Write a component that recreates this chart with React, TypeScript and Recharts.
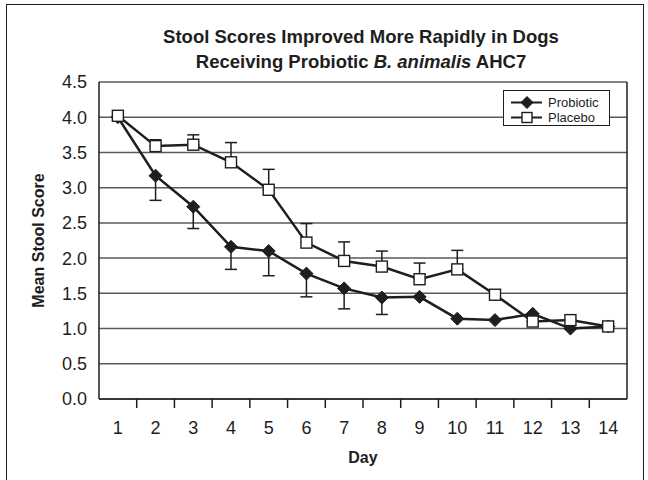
import React from 'react';
import {
  LineChart,
  Line,
  XAxis,
  YAxis,
  CartesianGrid,
  ErrorBar,
  Legend,
  ReferenceLine,
} from 'recharts';

const days = [1, 2, 3, 4, 5, 6, 7, 8, 9, 10, 11, 12, 13, 14];
const probiotic = [4.0, 3.17, 2.73, 2.16, 2.1, 1.78, 1.57, 1.44, 1.45, 1.14, 1.12, 1.21, 1.0, 1.03];
const probioticErr = [0, 0.35, 0.31, 0.32, 0.35, 0.33, 0.29, 0.24, 0, 0, 0, 0, 0, 0];
const placebo = [4.02, 3.59, 3.61, 3.36, 2.97, 2.22, 1.96, 1.88, 1.7, 1.84, 1.48, 1.1, 1.12, 1.03];
const placeboErr = [0, 0.09, 0.14, 0.28, 0.29, 0.27, 0.27, 0.22, 0.23, 0.27, 0, 0, 0, 0];
const yTicks = [0, 0.5, 1, 1.5, 2, 2.5, 3, 3.5, 4, 4.5];

const FONT = '"Liberation Sans", Arial, Helvetica, sans-serif';
const INK = '#1e1e1e';

const data = days.map((day, i) => ({
  day,
  probiotic: probiotic[i],
  probErr: [probioticErr[i], 0],
  placebo: placebo[i],
  placErr: [0, placeboErr[i]],
}));

const TICK_SIZE = 9;
const TICK_MARGIN = 13;

function DayTick(props: any) {
  const { x, y, payload, index, width } = props;
  const half = (width ?? 528) / days.length / 2;
  const axisY = y - TICK_SIZE - TICK_MARGIN;
  return (
    <g>
      {index < days.length - 1 && (
        <line x1={x + half} x2={x + half} y1={axisY} y2={axisY + TICK_SIZE} stroke={INK} strokeWidth={1.5} />
      )}
      <text x={x} y={y} dy="0.71em" textAnchor="middle" fill={INK} fontSize={18} fontFamily={FONT}>
        {payload.value}
      </text>
    </g>
  );
}

function Diamond({ cx, cy, r = 6.5 }: any) {
  return (
    <polygon
      points={`${cx},${cy - r} ${cx + r},${cy} ${cx},${cy + r} ${cx - r},${cy}`}
      fill={INK}
      stroke={INK}
      strokeWidth={1}
    />
  );
}

function Square({ cx, cy, s = 11 }: any) {
  return (
    <rect x={cx - s / 2} y={cy - s / 2} width={s} height={s} fill="#fff" stroke={INK} strokeWidth={1.4} />
  );
}

function LegendBox() {
  const rows = [
    { name: 'Probiotic', marker: (cx: number, cy: number) => <Diamond cx={cx} cy={cy} r={6} /> },
    { name: 'Placebo', marker: (cx: number, cy: number) => <Square cx={cx} cy={cy} s={10} /> },
  ];
  return (
    <div
      style={{
        background: '#fff',
        border: `1.3px solid ${INK}`,
        width: 105,
        height: 30,
        paddingTop: 4,
        boxSizing: 'content-box',
        fontFamily: FONT,
        fontSize: 13,
        color: INK,
      }}
    >
      {rows.map((r) => (
        <div key={r.name} style={{ display: 'flex', alignItems: 'center', height: 15 }}>
          <svg width={44} height={15} style={{ display: 'block' }}>
            <line x1={7} x2={38} y1={7.5} y2={7.5} stroke={INK} strokeWidth={2} />
            {r.marker(23, 7.5)}
          </svg>
          <span style={{ lineHeight: '15px' }}>{r.name}</span>
        </div>
      ))}
    </div>
  );
}

export default function App() {
  return (
    <div style={{ position: 'absolute', left: 0, top: 0, width: 648, height: 480, overflow: 'hidden', background: '#fff' }}>
      <div
        style={{
          position: 'absolute',
          left: 6,
          top: 4,
          width: 636,
          height: 520,
          border: `1.5px solid ${INK}`,
        }}
      />
      <div
        style={{
          position: 'absolute',
          left: 74,
          top: 24,
          width: 574,
          textAlign: 'center',
          fontFamily: FONT,
          fontWeight: 'bold',
          fontSize: 18.5,
          lineHeight: '25px',
          color: INK,
          zIndex: 2,
        }}
      >
        <div>Stool Scores Improved More Rapidly in Dogs</div>
        <div>
          Receiving Probiotic <i>B. animalis</i> AHC7
        </div>
      </div>
      <LineChart width={648} height={480} data={data} margin={{ top: 82, right: 21, bottom: 0, left: 0 }}>
        <CartesianGrid vertical={false} stroke="#5a5a5a" strokeWidth={1.5} />
        <XAxis
          dataKey="day"
          type="number"
          domain={[0.5, 14.5]}
          ticks={days}
          interval={0}
          height={81}
          tickLine={false}
          tickSize={TICK_SIZE}
          tickMargin={TICK_MARGIN}
          axisLine={{ stroke: INK, strokeWidth: 1.5 }}
          tick={<DayTick />}
          label={{
            value: 'Day',
            position: 'insideBottom',
            offset: 17,
            style: { fontFamily: FONT, fontWeight: 'bold', fontSize: 16, fill: INK },
          }}
        />
        <YAxis
          domain={[0, 4.5]}
          ticks={yTicks}
          interval={0}
          width={99}
          tickLine={false}
          tickSize={6}
          tickMargin={6}
          axisLine={{ stroke: INK, strokeWidth: 1.5 }}
          tickFormatter={(v: number) => v.toFixed(1)}
          tick={{ fill: INK, fontSize: 18, fontFamily: FONT }}
          label={{
            value: 'Mean Stool Score',
            angle: -90,
            position: 'insideLeft',
            offset: 38,
            style: { textAnchor: 'middle', fontFamily: FONT, fontWeight: 'bold', fontSize: 16, fill: INK },
          }}
        />
        <ReferenceLine x={14.5} stroke={INK} strokeWidth={1.5} />
        <Legend
          layout="vertical"
          align="center"
          verticalAlign="middle"
          wrapperStyle={{ left: 503, top: 90, width: 'auto', height: 'auto' }}
          content={() => <LegendBox />}
        />
        <Line
          dataKey="probiotic"
          name="Probiotic"
          stroke={INK}
          strokeWidth={2.5}
          isAnimationActive={false}
          dot={(p: any) => <Diamond key={`pd-${p.index}`} cx={p.cx} cy={p.cy} />}
          activeDot={false}
        >
          <ErrorBar dataKey="probErr" width={6} stroke={INK} strokeWidth={1.5} direction="y" isAnimationActive={false} />
        </Line>
        <Line
          dataKey="placebo"
          name="Placebo"
          stroke={INK}
          strokeWidth={2.5}
          isAnimationActive={false}
          dot={(p: any) => <Square key={`qd-${p.index}`} cx={p.cx} cy={p.cy} />}
          activeDot={false}
        >
          <ErrorBar dataKey="placErr" width={6} stroke={INK} strokeWidth={1.5} direction="y" isAnimationActive={false} />
        </Line>
      </LineChart>
    </div>
  );
}
